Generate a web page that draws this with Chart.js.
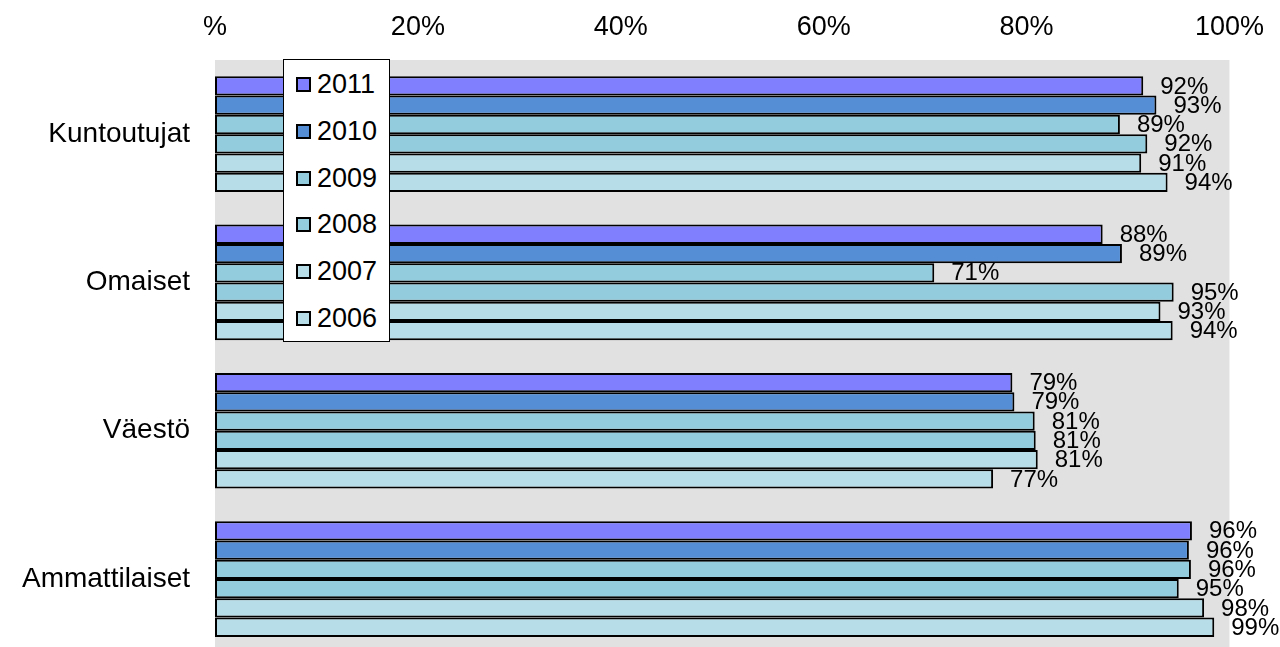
<!DOCTYPE html>
<html>
<head>
<meta charset="utf-8">
<script src="https://cdn.jsdelivr.net/npm/chart.js@4"></script>
<style>
    html, body { margin: 0; padding: 0; background: #fff; overflow: hidden; }
    #wrap { position: relative; width: 1280px; height: 695px; }
    #legend {
        position: absolute; left: 283px; top: 59px; width: 105px; height: 281px;
        background: #fff; border: 1px solid #000;
        font-family: "Liberation Sans", Arial, sans-serif; font-size: 27px; color: #000;
    }
    .item { position: absolute; left: 12px; height: 30px; line-height: 30px; }
    .box { display: inline-block; width: 11px; height: 11px; border: 2px solid #000; margin-right: 6px; vertical-align: 1px; }
</style>
</head>
<body>
<div id="wrap">
    <canvas id="chart" width="1280" height="695"></canvas>
    <div id="legend"></div>
</div>
<script>
const categories = ["Kuntoutujat", "Omaiset", "Väestö", "Ammattilaiset"];
const years = ["2011", "2010", "2009", "2008", "2007", "2006"];
const colors = ["#8080FF", "#558ED5", "#93CDDD", "#93CDDD", "#B7DEE8", "#B7DEE8"];

// values per year, in category order
const v2011 = [91.5, 87.5, 78.6, 96.3];
const v2010 = [92.8, 89.4, 78.8, 96.0];
const v2009 = [89.2, 70.9, 80.8, 96.2];
const v2008 = [91.9, 94.5, 80.9, 95.0];
const v2007 = [91.3, 93.2, 81.1, 97.5];
const v2006 = [93.9, 94.4, 76.7, 98.5];
const series = [v2011, v2010, v2009, v2008, v2007, v2006];

const xTicks = [0, 20, 40, 60, 80, 100];

const FONT = '"Liberation Sans", Arial, sans-serif';

// legend (overlays the plot like in the original)
const legend = document.getElementById("legend");
years.forEach((y, i) => {
    const d = document.createElement("div");
    d.className = "item";
    d.style.top = (9 + i * 46.8) + "px";
    d.innerHTML = `<span class="box" style="background:${colors[i]}"></span>${y}`;
    legend.appendChild(d);
});

const plotBg = {
    id: "plotBg",
    beforeDraw: chart => {
        const { ctx, chartArea } = chart;
        ctx.save();
        ctx.fillStyle = "#E1E1E1";
        ctx.fillRect(chartArea.left, chartArea.top, chartArea.right - chartArea.left, chartArea.bottom - chartArea.top);
        ctx.restore();
    }
};

const valueLabels = {
    id: "valueLabels",
    afterDatasetsDraw: chart => {
        const ctx = chart.ctx;
        ctx.save();
        ctx.font = "24px " + FONT;
        ctx.fillStyle = "#000";
        ctx.textAlign = "left";
        ctx.textBaseline = "middle";
        chart.data.datasets.forEach((ds, i) => {
            chart.getDatasetMeta(i).data.forEach((el, j) => {
                ctx.fillText(Math.round(ds.data[j]) + "%", el.x + 17, el.y + 1);
            });
        });
        ctx.restore();
    }
};

new Chart(document.getElementById("chart"), {
    type: "bar",
    data: {
        labels: categories,
        datasets: years.map((y, i) => ({
            label: y,
            data: series[i],
            backgroundColor: colors[i],
            borderColor: "#000",
            borderWidth: 2,
            borderSkipped: false,
            barPercentage: 1,
            categoryPercentage: 0.78
        }))
    },
    options: {
        indexAxis: "y",
        responsive: false,
        animation: false,
        layout: { padding: { left: 0, right: 49, top: 0, bottom: 0 } },
        plugins: {
            legend: { display: false },
            tooltip: { enabled: false }
        },
        scales: {
            x: {
                position: "top",
                min: 0,
                max: 100,
                afterBuildTicks: axis => { axis.ticks = xTicks.map(v => ({ value: v })); },
                afterFit: axis => { axis.height = 60; },
                grid: { display: false, drawTicks: false },
                border: { display: false },
                ticks: {
                    color: "#000",
                    font: { family: FONT, size: 27 },
                    padding: 16,
                    maxRotation: 0,
                    callback: v => v === 0 ? "%" : v + "%"
                }
            },
            y: {
                afterFit: axis => { axis.width = 215; },
                grid: { display: false, drawTicks: false },
                border: { display: false },
                ticks: {
                    color: "#000",
                    font: { family: FONT, size: 28 },
                    padding: 25
                }
            }
        }
    },
    plugins: [plotBg, valueLabels]
});
</script>
</body>
</html>
